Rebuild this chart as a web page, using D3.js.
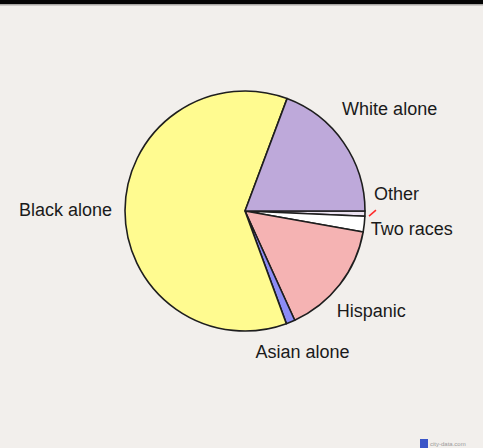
<!DOCTYPE html>
<html>
<head>
<meta charset="utf-8">
<script src="https://cdn.jsdelivr.net/npm/d3@7"></script>
<style>
  body { margin: 0; background: #f2efec; }
  #chart { width: 483px; height: 448px; }
</style>
</head>
<body>
<div id="chart"></div>
<script>
// Race breakdown (percent), clockwise from 3 o'clock
const groups = ["Other", "Two races", "Hispanic", "Asian alone", "Black alone", "White alone"];
const shares = [0.7, 2.1, 15.4, 1.2, 61.3, 19.3];
const colors = ["#ece3f2", "#ffffff", "#f5b3b3", "#8c8cf5", "#fffb90", "#bea9da"];

// label nudges from the rim point of each slice
const labelOffset = {
  "Other": [9, -13.5, "start"],
  "Two races": [6.5, 11, "start"],
  "Hispanic": [-3, 32.5, "start"],
  "Asian alone": [12, 36, "middle"],
  "Black alone": [-13, 5.5, "end"],
  "White alone": [-1.5, -27.5, "start"]
};

const data = groups.map((g, i) => ({ group: g, share: shares[i], color: colors[i] }));

drawChart(data);

function drawChart(data) {
  const width = 483;
  const height = 448;
  const cx = 245, cy = 211;
  const radius = 120;

  const svg = d3.select("#chart")
    .append("svg")
    .attr("width", width)
    .attr("height", height);

  svg.append("rect")
    .attr("width", width)
    .attr("height", height)
    .attr("fill", "#f2efec");

  // dark strip along the top
  svg.append("rect").attr("width", width).attr("height", 4).attr("fill", "#050505");
  svg.append("rect").attr("y", 4).attr("width", width).attr("height", 1.5).attr("fill", "#a9a7a4");

  const g = svg.append("g").attr("transform", `translate(${cx},${cy})`);

  const pie = d3.pie()
    .sort(null)
    .value(d => d.share)
    .startAngle(Math.PI / 2)
    .endAngle(Math.PI / 2 + 2 * Math.PI);

  const arc = d3.arc().innerRadius(0).outerRadius(radius);
  const rim = d3.arc().innerRadius(radius).outerRadius(radius);

  const arcs = pie(data);

  g.selectAll("path")
    .data(arcs)
    .enter()
    .append("path")
    .attr("d", arc)
    .attr("fill", d => d.data.color)
    .attr("stroke", "#1e1e1e")
    .attr("stroke-width", 1.6)
    .attr("stroke-linejoin", "round");

  g.selectAll("text.label")
    .data(arcs)
    .enter()
    .append("text")
    .attr("class", "label")
    .attr("x", d => rim.centroid(d)[0] + labelOffset[d.data.group][0])
    .attr("y", d => rim.centroid(d)[1] + labelOffset[d.data.group][1])
    .attr("text-anchor", d => labelOffset[d.data.group][2])
    .attr("font-family", "Liberation Sans, Arial, sans-serif")
    .attr("font-size", 18)
    .attr("fill", "#1a1a1a")
    .text(d => d.data.group);

  // red leader for the tiny "Other" slice
  const other = arcs[0];
  const p = rim.centroid(other);
  g.append("line")
    .attr("x1", p[0] + 4).attr("y1", p[1] + 2.5)
    .attr("x2", p[0] + 11).attr("y2", p[1] - 3.5)
    .attr("stroke", "#ff2a2a")
    .attr("stroke-width", 1.5);

  // site mark bottom right
  svg.append("rect")
    .attr("x", 420).attr("y", 439).attr("width", 8).attr("height", 9)
    .attr("fill", "#3a55c8");
  svg.append("text")
    .attr("x", 430).attr("y", 446)
    .attr("font-family", "Liberation Sans, Arial, sans-serif")
    .attr("font-size", 6)
    .attr("fill", "#9a9a9a")
    .text("city-data.com");
}
</script>
</body>
</html>
